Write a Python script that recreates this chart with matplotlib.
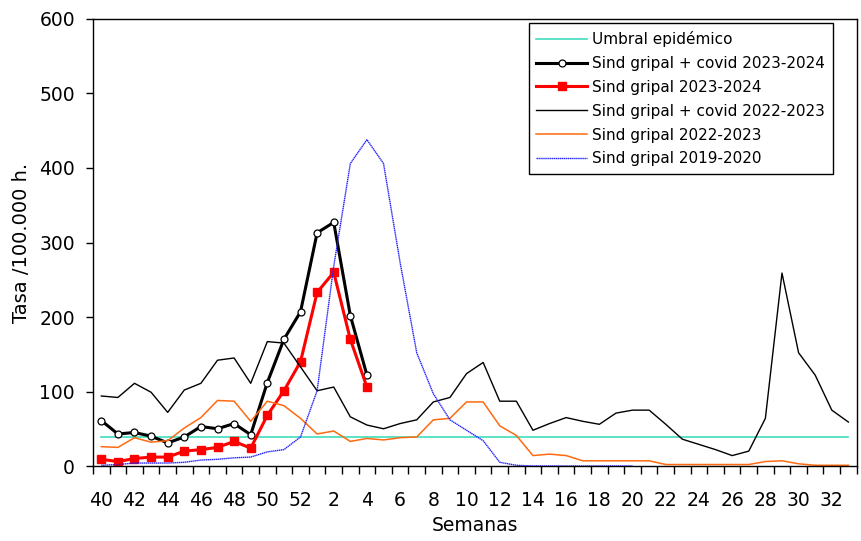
import matplotlib
matplotlib.use('Agg')
import matplotlib.pyplot as plt

# week labels: season runs from week 40 to week 33 of next year
weeks = list(range(40, 53)) + list(range(1, 34))

umbral = 39.6

covid_2324 = [61, 43, 45, 40, 31, 39, 53, 50, 57, 42, 112, 170, 207, 313, 327, 202, 122]
gripal_2324 = [9, 6, 10, 12, 12, 20, 22, 25, 33, 24, 68, 101, 140, 233, 260, 170, 106]

covid_2223 = [94, 92, 111, 99, 72, 102, 111, 142, 145, 111, 167, 165, 133, 101, 106, 66,
              55, 50, 57, 62, 86, 92, 124, 139, 87, 87, 48, 57, 65, 60, 56, 71, 75, 75,
              56, 36, 29, 22, 14, 20, 64, 259, 152, 122, 75, 59]
gripal_2223 = [26, 25, 38, 32, 34, 51, 65, 88, 87, 60, 87, 81, 64, 43, 47, 33, 37, 35,
               38, 39, 62, 64, 86, 86, 54, 41, 14, 16, 14, 7, 7, 7, 7, 7, 2, 2, 2, 2, 2,
               2, 6, 7, 3, 1, 1, 1]
gripal_1920 = [1, 2, 4, 4, 4, 5, 8, 9, 11, 12, 19, 22, 39, 101, 268, 406, 438, 406, 273,
               152, 97, 62, 48, 34, 5, 1, 0, 0, 0, 0, 0, 0, 0]

plt.rcParams['font.family'] = ['DejaVu Sans']

fig = plt.figure(figsize=(8.61, 5.41), dpi=100)
ax = fig.add_axes([0.108, 0.1386, 0.887, 0.8263])

x_all = list(range(len(weeks)))

ax.plot(x_all, [umbral] * len(weeks), color='#40DDBE', lw=1.2, label='Umbral epidémico')
ax.plot(range(len(covid_2324)), covid_2324, color='black', lw=2.2, marker='o',
        ms=5, mfc='white', mec='black', mew=0.9, label='Sind gripal + covid 2023-2024')
ax.plot(range(len(gripal_2324)), gripal_2324, color='#FF0000', lw=2.2, marker='s',
        ms=5.5, label='Sind gripal 2023-2024')
ax.plot(x_all, covid_2223, color='black', lw=1.0, label='Sind gripal + covid 2022-2023')
ax.plot(x_all, gripal_2223, color='#FF6A10', lw=1.1, label='Sind gripal 2022-2023')
ax.plot(range(len(gripal_1920)), gripal_1920, color='#2020FF', lw=1.0,
        ls=(0, (1, 0.4)), label='Sind gripal 2019-2020')

ax.set_xlim(-0.5, len(weeks) - 0.5)
ax.set_ylim(0, 600)
ax.set_yticks(range(0, 601, 100))

# labels every other week, tick marks at category boundaries
ax.set_xticks(x_all[::2])
ax.set_xticklabels([str(w) for w in weeks[::2]])
ax.set_xticks([i - 0.5 for i in range(len(weeks) + 1)], minor=True)
ax.tick_params(axis='x', which='major', length=0, pad=18, labelsize=13.5)
ax.tick_params(axis='x', which='minor', length=6, width=1, direction='out')
ax.tick_params(axis='y', length=5, width=1, direction='out', pad=8, labelsize=13.5)

for s in ax.spines.values():
    s.set_linewidth(1)

ax.set_xlabel('Semanas', fontsize=13.5, labelpad=4)
ax.set_ylabel('Tasa /100.000 h.', fontsize=14, labelpad=6)

leg = ax.legend(loc='upper right', bbox_to_anchor=(0.9686, 0.990), borderaxespad=0,
                fontsize=11, handlelength=3.3, handletextpad=0.35, labelspacing=0.58,
                borderpad=0.5, fancybox=False, framealpha=1, edgecolor='black')
leg.get_frame().set_linewidth(1)

plt.savefig('out.png', dpi=100)
plt.close()
